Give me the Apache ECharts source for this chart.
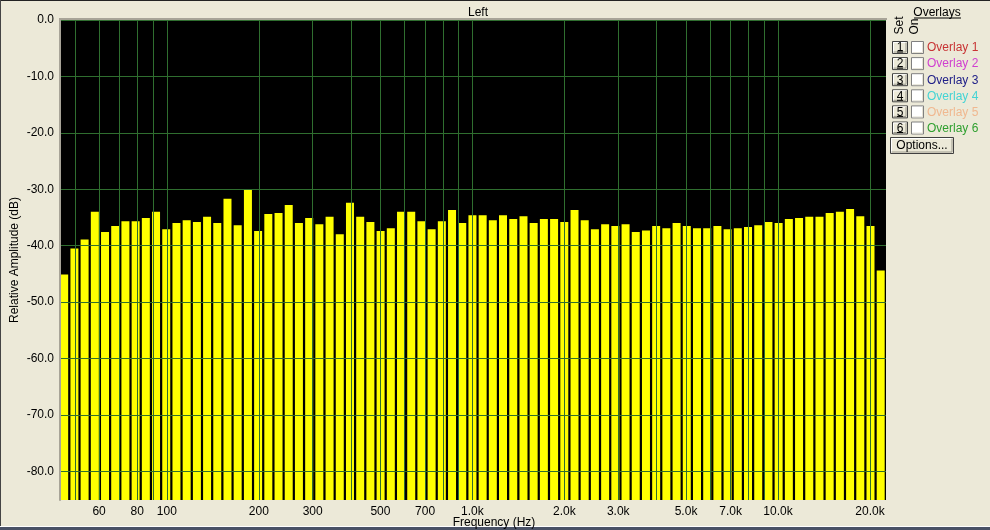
<!DOCTYPE html>
<html><head><meta charset="utf-8">
<script src="https://cdn.jsdelivr.net/npm/echarts@6/dist/echarts.min.js"></script>
<style>html,body{margin:0;padding:0;background:#ECE9D8;}#c{width:990px;height:530px;}</style>
</head><body><div id="c"></div>
<script>
// Band centre frequencies (Hz)
const frequencies = [46.13,49.83,53.81,58.11,62.76,67.76,73.18,79.03,85.35,92.17,
  99.54,107.5,116.1,125.4,135.4,146.2,157.9,170.5,184.2,198.9,
  214.8,232.0,250.5,270.5,292.2,315.5,340.8,368.0,397.4,429.2,
  463.5,500.6,540.6,583.8,630.5,680.8,735.2,794.0,857.5,926.0,
  1000,1080,1166,1259,1360,1469,1586,1713,1850,1998,
  2158,2330,2516,2718,2935,3170,3423,3697,3992,4311,
  4656,5028,5430,5864,6333,6839,7386,7976,8614,9302,
  10046,10850,11717,12654,13665,14757,15937,17211,18587,20073,21677];
// Relative amplitude (dB)
const amplitudes = [-45.1,-40.5,-38.9,-34.0,-37.6,-36.5,-35.7,-35.7,-35.1,-34.0,
  -37.1,-36.0,-35.5,-35.8,-34.9,-36.0,-31.7,-36.4,-30.1,-37.4,
  -34.4,-34.2,-32.8,-36.0,-35.1,-36.2,-34.9,-38.0,-32.4,-34.9,
  -35.8,-37.4,-36.9,-34.0,-34.0,-35.7,-37.1,-35.7,-33.7,-36.0,
  -34.6,-34.6,-35.5,-34.6,-35.3,-34.8,-36.0,-35.3,-35.3,-35.8,
  -33.7,-35.5,-37.1,-36.2,-36.5,-36.2,-37.6,-37.3,-36.5,-36.9,
  -36.0,-36.5,-36.9,-36.9,-36.5,-37.1,-36.9,-36.7,-36.4,-35.8,
  -36.0,-35.3,-35.1,-34.9,-34.9,-34.2,-34.0,-33.5,-34.8,-36.5,-44.4];
const gridFrequencies = [50,60,70,80,90,100,200,300,400,500,600,700,800,900,
  1000,2000,3000,4000,5000,6000,7000,8000,9000,10000,20000];
const labelFrequencies = [60,80,100,200,300,500,700,1000,2000,3000,5000,7000,10000,20000];
const amplitudeTicks = [0,-10,-20,-30,-40,-50,-60,-70,-80];
const overlayNames = ['Overlay 1','Overlay 2','Overlay 3','Overlay 4','Overlay 5','Overlay 6'];
const overlayColors = ['#C83434','#D040D0','#202088','#44D4D4','#F0B890','#30A030'];

const FONT = '"Liberation Sans", Arial, sans-serif';
const Y_MIN = -85.1;
const gridColor = '#2F6E2F';

function fmtFreq(v){
  if (v >= 1000) return (v/1000).toFixed(1) + 'k';
  return String(Math.round(v));
}

const graphics = [];
// plot top sunken border
graphics.push({type:'line', shape:{x1:59,y1:19,x2:887,y2:19}, style:{stroke:'#A8A498',lineWidth:2}, z:10});
// window border
graphics.push({type:'line', shape:{x1:0,y1:0.5,x2:990,y2:0.5}, style:{stroke:'#222',lineWidth:1}});
graphics.push({type:'line', shape:{x1:0.5,y1:0,x2:0.5,y2:530}, style:{stroke:'#444',lineWidth:1}});
graphics.push({type:'rect', shape:{x:0,y:527,width:990,height:3}, style:{fill:'#4A5266'}});
graphics.push({type:'line', shape:{x1:0,y1:526.5,x2:990,y2:526.5}, style:{stroke:'#FFFFFF',lineWidth:1}});
// x axis name
graphics.push({type:'text', x:494, y:517, style:{text:'Frequency (Hz)', font:'12px '+FONT, fill:'#000', align:'center', verticalAlign:'top'}});
// overlay panel
graphics.push({type:'text', x:937, y:13, style:{text:'Overlays', font:'12px '+FONT, fill:'#000', align:'center', verticalAlign:'middle'}});
graphics.push({type:'line', shape:{x1:914,y1:18,x2:961,y2:18}, style:{stroke:'#000',lineWidth:1}});
graphics.push({type:'text', x:899.5, y:25.5, rotation:Math.PI/2, style:{text:'Set', font:'12px '+FONT, fill:'#000', align:'center', verticalAlign:'middle'}});
graphics.push({type:'text', x:914.5, y:26.5, rotation:Math.PI/2, style:{text:'On', font:'12px '+FONT, fill:'#000', align:'center', verticalAlign:'middle'}});
function button(x,y,w,h,label){
  graphics.push({type:'rect', shape:{x:x,y:y,width:w,height:h}, style:{fill:'#ECE9D8', stroke:'#404040', lineWidth:1}});
  graphics.push({type:'polyline', shape:{points:[[x+1,y+h-1],[x+1,y+1],[x+w-1,y+1]]}, style:{stroke:'#FFFFFF',lineWidth:1, fill:null}});
  graphics.push({type:'polyline', shape:{points:[[x+1,y+h-1.5],[x+w-1.5,y+h-1.5],[x+w-1.5,y+1]]}, style:{stroke:'#9C9A8E',lineWidth:1, fill:null}});
  graphics.push({type:'text', x:x+w/2, y:y+h/2+0.5, style:{text:label, font:'12px '+FONT, fill:'#000', align:'center', verticalAlign:'middle'}});
}
for (let i = 0; i < overlayNames.length; i++) {
  const y0 = 41 + i*16.1;
  button(892.5, y0+0.5, 15, 12, String(i+1));
  graphics.push({type:'line', shape:{x1:897,y1:y0+11,x2:903,y2:y0+11}, style:{stroke:'#000',lineWidth:1}});
  graphics.push({type:'rect', shape:{x:911.5,y:y0+0.5,width:12,height:12}, style:{fill:'#FFFFFF', stroke:'#808080', lineWidth:1}});
  graphics.push({type:'polyline', shape:{points:[[922.5,y0+1.5],[922.5,y0+11.5],[912.5,y0+11.5]]}, style:{stroke:'#E6E3D6',lineWidth:1, fill:null}});
  graphics.push({type:'text', x:927, y:y0+7, style:{text:overlayNames[i], font:'12px '+FONT, fill:overlayColors[i], align:'left', verticalAlign:'middle'}});
}
button(890.5, 137.5, 63, 16, 'Options...');

const chart = echarts.init(document.getElementById('c'), null, {renderer:'canvas'});
chart.setOption({
  backgroundColor:'#ECE9D8',
  animation:false,
  title:{text:'Left', left:473, top:2, textAlign:'center',
    textStyle:{fontSize:12, fontWeight:'normal', color:'#000', fontFamily:FONT}},
  grid:{left:60, right:104, top:20, bottom:30, show:true, backgroundColor:'#000000', borderWidth:0,
    containLabel:false, outerBoundsMode:'none'},
  xAxis:{type:'log', logBase:10, min:44.7, max:22560, z:5,
    axisLine:{show:false},
    axisTick:{show:false, customValues:gridFrequencies},
    axisLabel:{customValues:labelFrequencies, formatter:fmtFreq, color:'#000', fontSize:12, fontFamily:FONT, margin:6},
    splitLine:{show:true, lineStyle:{color:gridColor, width:1}},
    minorSplitLine:{show:false}},
  yAxis:{type:'value', min:Y_MIN, max:0, z:5,
    name:'Relative Amplitude (dB)', nameLocation:'middle', nameGap:39, nameMoveOverlap:false,
    nameTextStyle:{color:'#000', fontSize:12, fontFamily:FONT},
    axisLine:{show:true, lineStyle:{color:'#A8A498', width:2}},
    axisTick:{show:false, customValues:amplitudeTicks},
    axisLabel:{customValues:amplitudeTicks, formatter:v=>Number(v).toFixed(1), color:'#000', fontSize:12, fontFamily:FONT, margin:6},
    splitLine:{show:true, lineStyle:{color:gridColor, width:1}}},
  series:[{
    type:'custom', clip:true, z:2,
    data: frequencies.map((f,i)=>[f, amplitudes[i]]),
    renderItem:function(params, api){
      const top = api.coord([api.value(0), api.value(1)]);
      const base = api.coord([api.value(0), Y_MIN]);
      const w = 8;
      return {type:'rect', shape:{x:top[0]-w/2, y:top[1], width:w, height:base[1]-top[1]},
        style:{fill:'#FFFF00'}};
    }
  }],
  graphic:graphics
});
</script>
</body></html>
